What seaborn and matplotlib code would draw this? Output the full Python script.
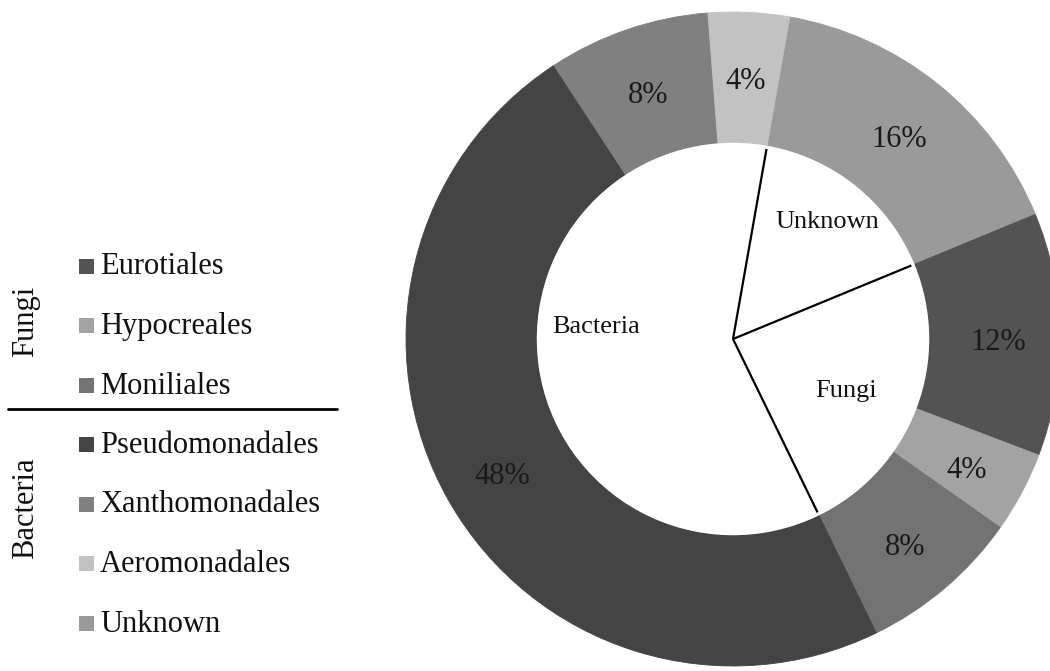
import numpy as np
import matplotlib
matplotlib.use("Agg")
import matplotlib.pyplot as plt
from matplotlib.patches import Rectangle
from matplotlib.lines import Line2D
import seaborn as sns

# Orders (outer ring), shares in percent, clockwise from the Unknown slice
orders = ["Unknown", "Eurotiales", "Hypocreales", "Moniliales",
          "Pseudomonadales", "Xanthomonadales", "Aeromonadales"]
order_share = [16, 12, 4, 8, 48, 8, 4]

# Kingdom groups (inner pie), same clockwise order
groups = ["Unknown", "Fungi", "Bacteria"]
group_share = [16, 24, 60]

# Legend layout: group name -> member orders
legend_groups = {
    "Fungi": ["Eurotiales", "Hypocreales", "Moniliales"],
    "Bacteria": ["Pseudomonadales", "Xanthomonadales", "Aeromonadales", "Unknown"],
}

order_colors = {
    "Unknown": "#9a9a9a",
    "Eurotiales": "#535353",
    "Hypocreales": "#a3a3a3",
    "Moniliales": "#737373",
    "Pseudomonadales": "#444444",
    "Xanthomonadales": "#808080",
    "Aeromonadales": "#c2c2c2",
}

sns.set_theme(style="white")
plt.rcParams["font.family"] = ["Liberation Serif", "DejaVu Serif"]

W, H = 1050, 671
fig = plt.figure(figsize=(W / 100, H / 100), dpi=100)
fig.patch.set_facecolor("white")

# Donut axes: centre at (733, 339) px, outer radius 327 px
cx, cy, R = 733, 339, 327
ax = fig.add_axes([(cx - R) / W, (H - cy - R) / H, 2 * R / W, 2 * R / H])
ax.axis("off")

start = 80  # first slice boundary sits 10 degrees clockwise of 12 o'clock
inner_r = 0.6

cols = [order_colors[o] for o in orders]
wedges, _ = ax.pie(order_share, radius=1.0, startangle=start, counterclock=False,
                   colors=cols,
                   wedgeprops=dict(width=1 - inner_r, linewidth=0.6, antialiased=True))
for w, c in zip(wedges, cols):
    w.set_edgecolor(c)

# Percentage labels in the middle of each ring slice
for w, v in zip(wedges, order_share):
    ang = np.deg2rad((w.theta1 + w.theta2) / 2)
    r = 0.81
    ax.annotate(f"{v}%", xy=(r * np.cos(ang), r * np.sin(ang)),
                xytext=(0, -5), textcoords="offset points",
                ha="center", va="center", fontsize=22, color="#1a1a1a")

# Inner white pie with radial separators only
inner, _ = ax.pie(group_share, radius=inner_r, startangle=start, counterclock=False,
                  colors=["white"] * len(groups), wedgeprops=dict(linewidth=0))
for w in inner:
    ang = np.deg2rad(w.theta1)
    ax.plot([0, 0.59 * np.cos(ang)], [0, 0.59 * np.sin(ang)], color="black", lw=1.6,
            solid_capstyle="butt")

inner_label_r = {"Unknown": 0.46, "Fungi": 0.38, "Bacteria": 0.42}
inner_label_shift = {"Unknown": 0, "Fungi": -4, "Bacteria": -13}
for w, g in zip(inner, groups):
    mid = (w.theta1 + w.theta2) / 2 + inner_label_shift[g]
    ang = np.deg2rad(mid)
    r = inner_label_r[g]
    ax.text(r * np.cos(ang), r * np.sin(ang), g, ha="center", va="center",
            fontsize=19, color="#111111")

# pie() rescales the view, so fix the unit circle to the axes box afterwards
ax.set_xlim(-1, 1)
ax.set_ylim(-1, 1)
ax.set_aspect("equal")

# Legend drawn in figure pixels
def fx(px):
    return px / W

def fy(py):
    return 1 - py / H

row_y0, row_step = 266, 59.5
row = 0
for gname, members in legend_groups.items():
    for m in members:
        y = row_y0 + row * row_step
        fig.patches.append(Rectangle((fx(79), fy(y + 7.5)), 15 / W, 15 / H,
                                     transform=fig.transFigure,
                                     facecolor=order_colors[m], edgecolor="none"))
        fig.text(fx(100), fy(y + 1), m, ha="left", va="center", fontsize=22,
                 color="#111111")
        row += 1

fig.text(fx(26), fy(321), "Fungi", rotation=90, ha="center", va="center",
         fontsize=22, color="#111111")
fig.text(fx(26), fy(508), "Bacteria", rotation=90, ha="center", va="center",
         fontsize=22, color="#111111")

fig.lines.append(Line2D([fx(8), fx(337)], [fy(409), fy(409)],
                        transform=fig.transFigure, color="black", lw=2))

fig.savefig("out.png", dpi=100, facecolor="white")
